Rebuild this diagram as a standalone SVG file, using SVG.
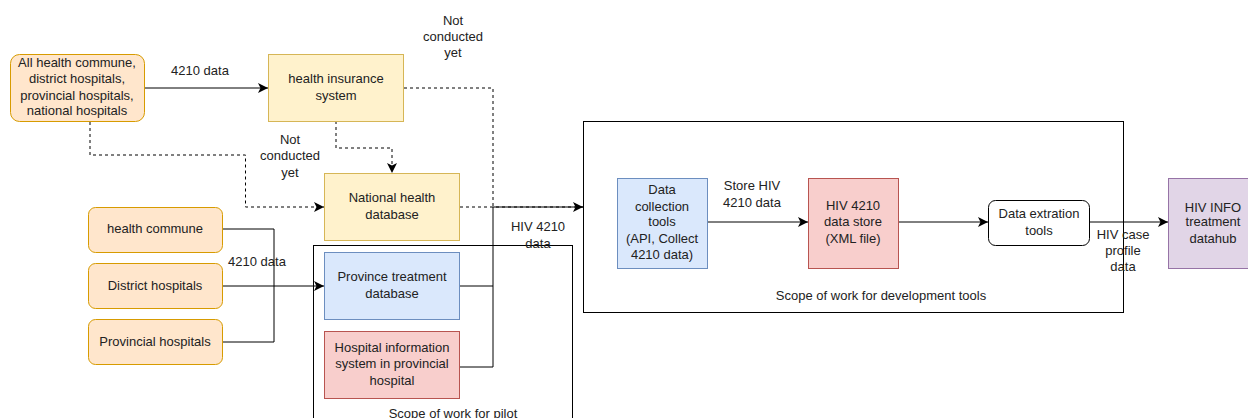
<svg xmlns="http://www.w3.org/2000/svg" width="1248" height="418" viewBox="0 0 1248 418">
<style>
text{font-family:"Liberation Sans",Arial,sans-serif;font-size:13px;fill:#222;text-anchor:middle}
.e{fill:none;stroke:#000;stroke-width:1}
.d{stroke-dasharray:3 3}
.or{fill:#ffe6cc;stroke:#d79b00}
.ye{fill:#fff2cc;stroke:#d6b656}
.bl{fill:#dae8fc;stroke:#6c8ebf}
.rd{fill:#f8cecc;stroke:#b85450}
.pu{fill:#e1d5e7;stroke:#9673a6}
.sc{fill:none;stroke:#000}
</style>
<defs>
<marker id="a" viewBox="0 0 10 10" refX="10" refY="5" markerWidth="10" markerHeight="10" markerUnits="userSpaceOnUse" orient="auto">
<path d="M0,0 L10,5 L0,10 L2.5,5 Z" fill="#000"/>
</marker>
</defs>
<rect width="1248" height="418" fill="#fff"/>
<g id="scope-pilot">
<rect class="sc" x="313.5" y="245.5" width="259" height="190"/>
<text x="453" y="418">Scope of work for pilot</text>
</g>
<g id="scope-dev">
<rect class="sc" x="583.5" y="121.5" width="540" height="191"/>
<text x="881" y="300">Scope of work for development tools</text>
</g>
<g id="connectors">
<path class="e" d="M145,88 H268" marker-end="url(#a)"/>
<text x="200" y="75">4210 data</text>
<path class="e d" d="M404,88 H493 V207"/>
<text x="453" y="25">Not</text>
<text x="453" y="41">conducted</text>
<text x="453" y="57">yet</text>
<path class="e d" d="M336,121 V148 H392 V173" marker-end="url(#a)"/>
<text x="290" y="144">Not</text>
<text x="290" y="160">conducted</text>
<text x="290" y="177">yet</text>
<path class="e d" d="M90,122 V155 H245.5 V207 H324" marker-end="url(#a)"/>
<path class="e d" d="M460,207 H583"/>
<path class="e" d="M460,286 H493 M460,367 H493 V207 H583" marker-end="url(#a)"/>
<text x="538" y="231">HIV 4210</text>
<text x="538" y="248">data</text>
<path class="e" d="M223,229 H274 V342 H223"/>
<path class="e" d="M223,286 H324" marker-end="url(#a)"/>
<text x="257" y="266">4210 data</text>
<path class="e" d="M707,222 H808" marker-end="url(#a)"/>
<text x="752" y="190">Store HIV</text>
<text x="752" y="207">4210 data</text>
<path class="e" d="M898,222 H988" marker-end="url(#a)"/>
<path class="e" d="M1090,222 H1168" marker-end="url(#a)"/>
<text x="1123" y="239">HIV case</text>
<text x="1123" y="255">profile</text>
<text x="1123" y="271">data</text>
</g>
<g id="n-all">
<rect class="or" x="10.5" y="54.5" width="134" height="67" rx="9"/>
<text x="77" y="67">All health commune,</text>
<text x="77" y="83">district hospitals,</text>
<text x="77" y="100">provincial hospitals,</text>
<text x="77" y="115">national hospitals</text>
</g>
<g id="n-insurance">
<rect class="ye" x="268.5" y="54.5" width="135" height="67"/>
<text x="336" y="83">health insurance</text>
<text x="336" y="100">system</text>
</g>
<g id="n-national">
<rect class="ye" x="324.5" y="173.5" width="135" height="67"/>
<text x="392" y="202">National health</text>
<text x="392" y="219">database</text>
</g>
<g id="n-commune">
<rect class="or" x="88.5" y="207.5" width="134" height="45" rx="7"/>
<text x="155" y="233">health commune</text>
</g>
<g id="n-district">
<rect class="or" x="88.5" y="263.5" width="134" height="45" rx="7"/>
<text x="155" y="290">District hospitals</text>
</g>
<g id="n-provincial">
<rect class="or" x="88.5" y="319.5" width="134" height="45" rx="7"/>
<text x="155" y="346">Provincial hospitals</text>
</g>
<g id="n-province-db">
<rect class="bl" x="324.5" y="252.5" width="135" height="67"/>
<text x="392" y="281">Province treatment</text>
<text x="392" y="298">database</text>
</g>
<g id="n-his">
<rect class="rd" x="324.5" y="331.5" width="135" height="67"/>
<text x="392" y="352">Hospital information</text>
<text x="392" y="368">system in provincial</text>
<text x="392" y="385">hospital</text>
</g>
<g id="n-collect">
<rect class="bl" x="617.5" y="178.5" width="90" height="90"/>
<text x="662" y="194">Data</text>
<text x="662" y="211">collection</text>
<text x="662" y="226">tools</text>
<text x="662" y="243">(API, Collect</text>
<text x="662" y="259">4210 data)</text>
</g>
<g id="n-store">
<rect class="rd" x="808.5" y="178.5" width="90" height="90"/>
<text x="853" y="210">HIV 4210</text>
<text x="853" y="226">data store</text>
<text x="853" y="243">(XML file)</text>
</g>
<g id="n-extract">
<rect x="988.5" y="200.5" width="101" height="45" rx="7" fill="#fff" stroke="#000"/>
<text x="1039" y="218">Data extration</text>
<text x="1039" y="235">tools</text>
</g>
<g id="n-hub">
<rect class="pu" x="1168.5" y="178.5" width="90" height="90"/>
<text x="1213" y="212">HIV INFO</text>
<text x="1213" y="226">treatment</text>
<text x="1213" y="243">datahub</text>
</g>
</svg>
